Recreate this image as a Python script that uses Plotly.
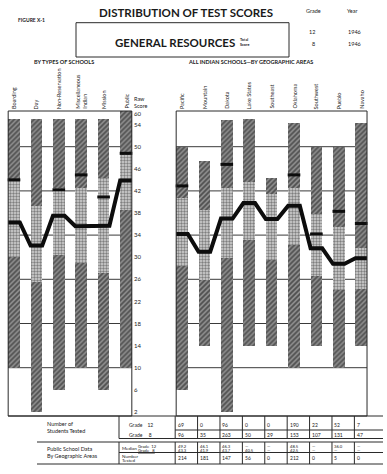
import plotly.graph_objects as go

W, H = 387, 474
FONT = "Lato"
INK = "#1a1a1a"

# ---------------- data ----------------
school_types = ["Boarding", "Day", "Non-Reservation", "Miscellaneous<br>Indian", "Mission", "Public"]
areas = ["Pacific", "Mountain", "Dakota", "Lake States", "Southeast", "Oklahoma", "Southwest", "Pueblo", "Navaho"]

# raw-score distributions (lowest, lower quartile, upper quartile, highest)
types_min = [10, 2, 6, 10, 6, 10]
types_q1 = [30, 25.6, 30.4, 29, 27.1, 38.5]
types_q3 = [44, 39.3, 42.5, 42.5, 44.3, 48.5]
types_max = [55, 55, 55, 55, 55, 56.4]
types_median = [36.3, 32.1, 37.5, 35.6, 35.7, 43.9]
types_mark = [44, None, 42.2, 44.9, 40.9, 48.8]

areas_min = [6, 14, 2, 14, 14, 10, 14, 10, 14]
areas_q1 = [28.4, 25.9, 29.8, 33.1, 29.5, 32.2, 26.6, 24, 24.3]
areas_q3 = [40.8, 38.5, 42.6, 43.7, 41.5, 42.5, 37.9, 35.5, 31.6]
areas_max = [50, 47.4, 54.8, 55, 44.3, 54.2, 50, 50, 54.2]
areas_median = [34.2, 31, 37, 39.8, 36.9, 39.3, 31.6, 28.8, 29.8]
areas_mark = [42.9, None, 46.8, None, None, 44.9, 34.2, 38.3, 36.1]

score_ticks = [56, 54, 50, 46, 42, 38, 34, 30, 26, 22, 18, 14, 10, 6, 2]
score_labels = ["60", "54", "50", "46", "42", "38", "34", "30", "26", "22", "18", "14", "10", "6", "2"]
grid_levels = [50, 42, 34, 26, 18, 10]

tested_g12 = ["69", "0", "96", "0", "0", "190", "22", "52", "7"]
tested_g8 = ["96", "35", "263", "50", "29", "153", "107", "131", "47"]
public_median_g12 = ["49.2", "46.1", "46.3", "—", "—", "48.5", "—", "36.0", "—"]
public_median_g8 = ["43.3", "41.9", "43.7", "40.5", "—", "42.5", "—", "—", "—"]
public_tested = ["214", "181", "147", "56", "0", "212", "0", "5", "0"]

# ---------------- layout helpers ----------------
S = 22.4          # px per category step
X0 = 14.0         # px of first category centre
Y50 = 146.7       # px of score 50
K = 5.525         # px per score point
BW = 0.52         # bar width in category units


def xd(p):
    return (p - X0) / S


def yd(p):
    return 50 - (p - Y50) / K


def px(x):
    return x / W


def py(y):
    return 1 - y / H


def xpix(d):
    return X0 + d * S


type_pos = list(range(len(school_types)))
area_pos = [7.5 + j for j in range(len(areas))]
pos_all = type_pos + area_pos
mins = types_min + areas_min
q1s = types_q1 + areas_q1
q3s = types_q3 + areas_q3
maxs = types_max + areas_max
marks = types_mark + areas_mark

fig = go.Figure()

dark = dict(shape="/", fgcolor="#111111", bgcolor="#8e8e8e", size=3.5, solidity=0.5)
light = dict(shape=".", fgcolor="#2a2a2a", bgcolor="#d4d4d4", size=3, solidity=0.5)


def segment(lo, hi, pattern):
    fig.add_trace(go.Bar(
        x=pos_all, y=[h - l for l, h in zip(lo, hi)], base=lo, width=BW,
        marker=dict(color="white", line=dict(width=0), pattern=pattern),
        showlegend=False, hoverinfo="skip"))


segment(mins, q1s, dark)
segment(q1s, q3s, light)
segment(q3s, maxs, dark)

# median connecting line
xs, ys = [], []
for grp_pos, grp_med in [(type_pos, types_median), (area_pos, areas_median)]:
    for p, m in zip(grp_pos, grp_med):
        xs += [p - BW / 2, p + BW / 2]
        ys += [m, m]
    xs.append(None)
    ys.append(None)
fig.add_trace(go.Scatter(x=xs, y=ys, mode="lines", line=dict(color="#0d0d0d", width=4),
                         showlegend=False, hoverinfo="skip"))

fig.add_trace(go.Scatter(x=pos_all, y=marks, mode="markers",
                         marker=dict(symbol="line-ew", size=9, line=dict(width=3, color="#0d0d0d")),
                         showlegend=False, hoverinfo="skip"))

# panel frames and grid
y_top, y_bot = yd(111), yd(416)
panels = [(type_pos[0] - BW / 2, type_pos[-1] + BW / 2), (area_pos[0] - BW / 2, area_pos[-1] + BW / 2)]
for x0, x1 in panels:
    for g in grid_levels:
        fig.add_shape(type="line", xref="x", yref="y", x0=x0, x1=x1, y0=g, y1=g,
                      line=dict(color="#3a3a3a", width=1), layer="below")
    fig.add_shape(type="rect", xref="x", yref="y", x0=x0, x1=x1, y0=y_bot, y1=y_top,
                  line=dict(color="#2a2a2a", width=1), layer="above")


def T(x, y, text, size=5.5, xa="left", ya="middle", bold=False, angle=0, align="left", xref="paper"):
    fig.add_annotation(x=(x if xref == "x" else px(x)), y=py(y), xref=xref, yref="paper",
                       text=(f"<b>{text}</b>" if bold else text), showarrow=False,
                       xanchor=xa, yanchor=ya, textangle=angle, align=align, borderpad=0,
                       font=dict(size=size, family=FONT, color=INK))


def L(x0, y0, x1, y1, w=1):
    fig.add_shape(type="line", xref="paper", yref="paper", x0=px(x0), y0=py(y0), x1=px(x1), y1=py(y1),
                  line=dict(color="#2a2a2a", width=w))


# header
T(186, 12, "DISTRIBUTION OF TEST SCORES", size=11.5, xa="center", bold=True)
T(17, 20, "FIGURE X-1", size=5, bold=True)
fig.add_shape(type="rect", xref="paper", yref="paper", x0=px(76), x1=px(289), y0=py(57), y1=py(22.7),
              line=dict(color="#2a2a2a", width=1))
T(175, 42.5, "GENERAL RESOURCES", size=11.5, xa="center", bold=True)
T(239, 42, "Total<br>Score", size=3.8, bold=True)
T(313, 11, "Grade", size=5.5, xa="center")
T(352, 11, "Year", size=5.5, xa="center")
T(312, 32, "12", size=5.5, xa="center")
T(354, 32, "1946", size=5.5, xa="center")
T(313, 44, "8", size=5.5, xa="center")
T(354, 44, "1946", size=5.5, xa="center")
T(64, 62, "BY TYPES OF SCHOOLS", size=5.5, xa="center", bold=True)
T(250, 62, "ALL INDIAN SCHOOLS—BY GEOGRAPHIC AREAS", size=5.5, xa="center", bold=True)

# category labels
for p, name in zip(pos_all, school_types + areas):
    T(p, 110, name, size=5.5, xa="center", ya="bottom", angle=-90, align="left", xref="x")
T(133, 102, "Raw<br>Score", size=5.5)

# table
cb = [xpix(p - BW / 2) - 1 for p in area_pos]
RIGHT = 383
L(8, 416, RIGHT, 416)
for xv in [119] + cb:
    L(xv, 416, xv, 438.5)
    L(xv, 442, xv, 464)
L(cb[0], 430, RIGHT, 430)
L(119, 438.5, RIGHT, 438.5)
L(37, 442, RIGHT, 442)
L(119, 452.5, RIGHT, 452.5)
L(37, 464, RIGHT, 464)

T(46, 424, "Number of", size=5.5)
T(46, 431, "Students Tested", size=5.5)
T(128, 424.5, "Grade &nbsp;&nbsp;&nbsp;12", size=5)
T(128, 434.5, "Grade &nbsp;&nbsp;&nbsp;&nbsp;8", size=5)
T(46, 449, "Public School Data", size=5.5)
T(46, 455.5, "By Geographic Areas", size=5.5)
T(121, 448.5, "Median", size=4.5)
T(137, 446.8, "Grade &nbsp;12", size=4.2)
T(137, 450.4, "<u>Grade &nbsp;&nbsp;8</u>", size=4.2)
T(121, 456.5, "Number", size=4.5)
T(121, 460.5, "Tested", size=4.5)

for j, c in enumerate(cb):
    T(c + 1.5, 424.5, tested_g12[j], size=5)
    T(c + 1.5, 434.5, tested_g8[j], size=5)
    T(c + 1.5, 446.8, public_median_g12[j], size=4.2)
    T(c + 1.5, 450.4, public_median_g8[j], size=4.2)
    T(c + 1.5, 458, public_tested[j], size=5)

fig.update_layout(
    width=W, height=H, autosize=False,
    margin=dict(l=0, r=0, t=0, b=0, pad=0),
    paper_bgcolor="white", plot_bgcolor="white",
    barmode="overlay", bargap=0,
    xaxis=dict(range=[xd(0), xd(W)], visible=False, fixedrange=True),
    yaxis=dict(range=[yd(H), yd(0)], anchor="free", position=133 / W, side="right",
               tickvals=score_ticks, ticktext=score_labels, ticks="", showgrid=False,
               zeroline=False, showline=False, tickfont=dict(size=6, family=FONT, color=INK),
               fixedrange=True),
    showlegend=False,
)

fig.write_html("out.html")
